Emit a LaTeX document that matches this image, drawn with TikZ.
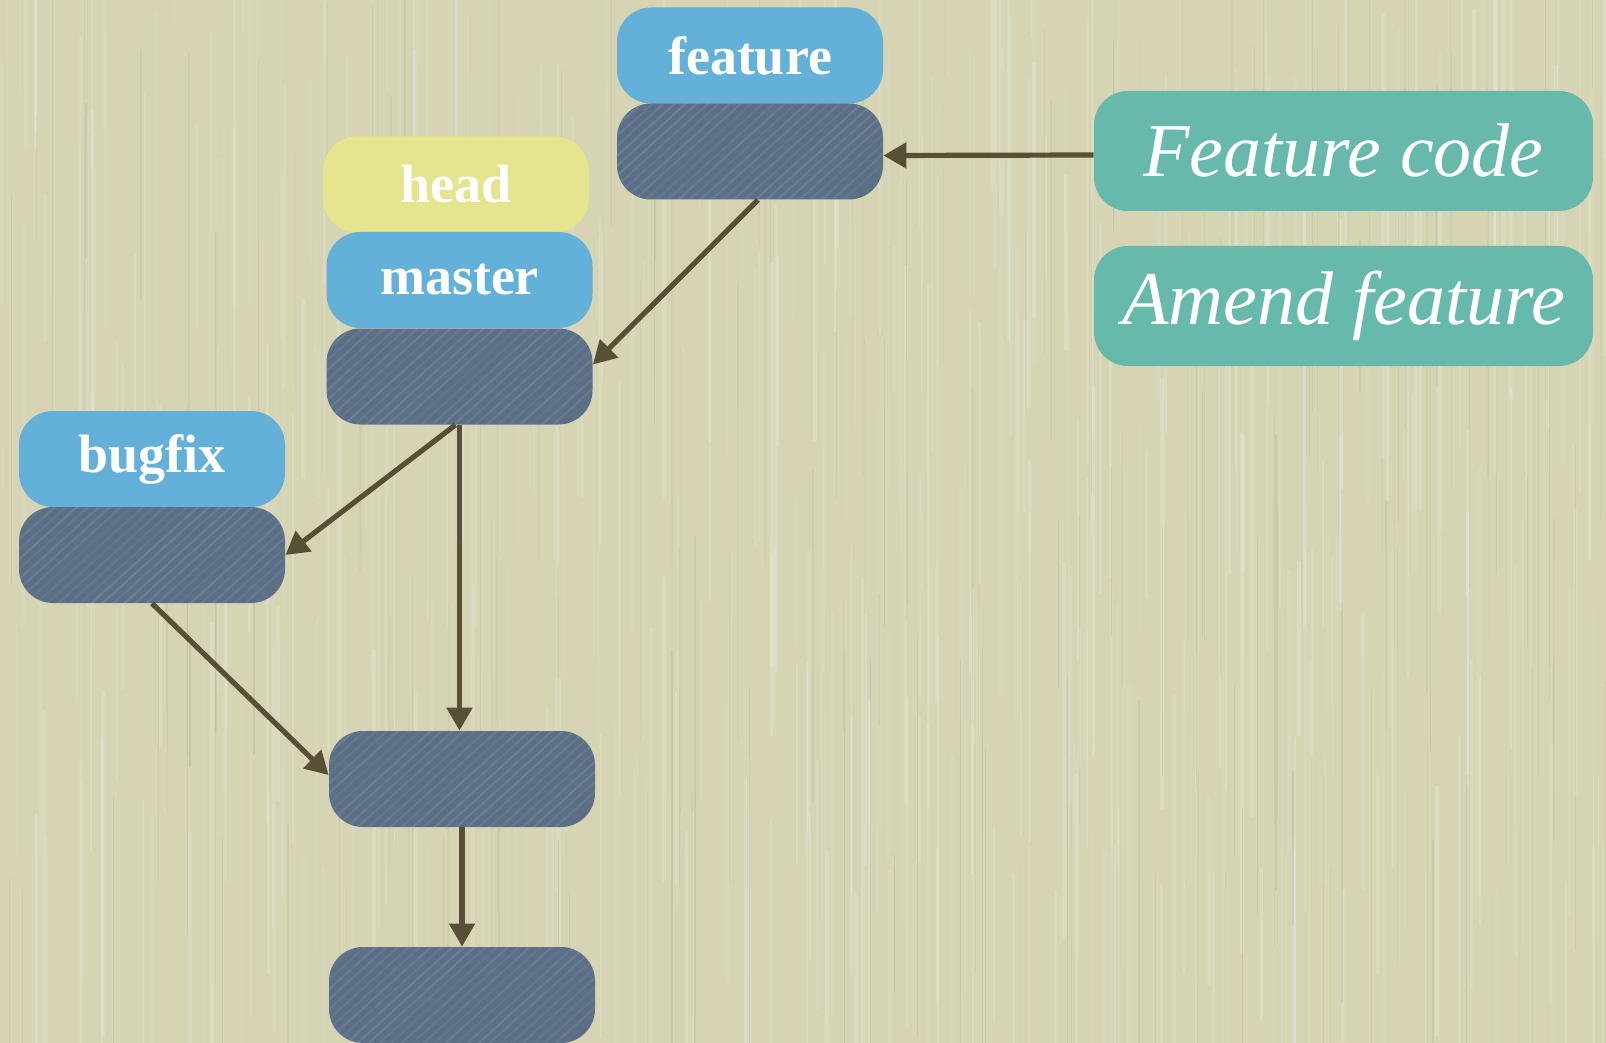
\documentclass[tikz,border=0pt]{standalone}
\usepackage{fontspec}
\setmainfont{Liberation Serif}
\usetikzlibrary{arrows.meta,calc}

\definecolor{paper}{HTML}{D6D4B4}
\definecolor{branchblue}{HTML}{63B0D9}
\definecolor{commitslate}{HTML}{5B6F87}
\definecolor{headyellow}{HTML}{E5E48F}
\definecolor{noteteal}{HTML}{67B9AB}
\definecolor{edgeolive}{HTML}{575036}

\begin{document}
\begin{tikzpicture}[x=0.5pt,y=-0.5pt,
  tag/.style={rounded corners=17pt, minimum width=133pt, minimum height=48pt,
    inner sep=0pt, text=white, font=\fontsize{27}{30}\selectfont\bfseries},
  branchtag/.style={tag, fill=branchblue},
  headtag/.style={tag, fill=headyellow},
  commit/.style={tag, fill=commitslate,
    path picture={
      \foreach \k in {0,...,30}{
        \pgfmathsetmacro{\op}{0.04+0.07*rnd}
        \draw[white, opacity=\op, line width=1.1pt]
          ($(path picture bounding box.south west)+(\k*5.5pt-55pt,-3pt)$) -- ++(62pt,56pt);
      }
    }},
  note/.style={rounded corners=17pt, minimum width=249.5pt, minimum height=60pt,
    inner sep=0pt, fill=noteteal, text=white, font=\fontsize{38}{42}\selectfont\itshape},
  link/.style={draw=edgeolive, line width=2.6pt,
    -{Triangle[width=12.5pt,length=11.5pt]}},
]
% paper background with faint vertical grain
\useasboundingbox (0,0) rectangle (1606,1043);
\fill[paper] (0,0) rectangle (1606,1043);
\pgfmathsetseed{17}
\foreach \i in {1,...,420}{
  \pgfmathsetmacro{\xx}{rnd*1606}
  \pgfmathsetmacro{\yy}{rnd*1043-150}
  \pgfmathsetmacro{\ll}{120+rnd*420}
  \pgfmathsetmacro{\op}{0.05+0.13*rnd}
  \pgfmathsetmacro{\ww}{0.6+1.4*rnd}
  \draw[white, opacity=\op, line width=\ww pt] (\xx,\yy) -- (\xx,\yy+\ll);
}
\foreach \i in {1,...,200}{
  \pgfmathsetmacro{\xx}{rnd*1606}
  \pgfmathsetmacro{\yy}{rnd*1043-150}
  \pgfmathsetmacro{\ll}{120+rnd*420}
  \pgfmathsetmacro{\op}{0.03+0.07*rnd}
  \draw[black!60!paper, opacity=\op, line width=0.6pt] (\xx,\yy) -- (\xx,\yy+\ll);
}

% branch and head tags
\node[branchtag] (featL) at (750,55.5) {feature};
\node[headtag]   (headL) at (456,184.5) {head};
\node[branchtag] (mastL) at (459.5,280) {master};
\node[branchtag] (bugL)  at (152,459) {bugfix};

% commits
\node[commit] (featC) at (750,151.5) {};
\node[commit] (c1)    at (459.5,376.5) {};
\node[commit] (bugC)  at (152,555) {};
\node[commit] (merge) at (462,779) {};
\node[commit] (last)  at (462,995) {};

% notes
\node[note] (fcode) at (1343.5,151) {Feature code};
\node[note] (amend) at (1343.5,306) {Amend feature};

% history links
\draw[link] ([yshift=-2pt]fcode.west) -- ([yshift=-2pt]featC.east);
\draw[link] ([xshift=4pt]featC.south) -- ([yshift=6pt]c1.east);
\draw[link] ([xshift=-2pt]c1.south) -- (bugC.east);
\draw[link] (c1.south) -- (c1.south |- merge.north);
\draw[link] (bugC.south) -- ([yshift=2pt]merge.west);
\draw[link] (merge.south) -- (merge.south |- last.north);
\end{tikzpicture}
\end{document}
